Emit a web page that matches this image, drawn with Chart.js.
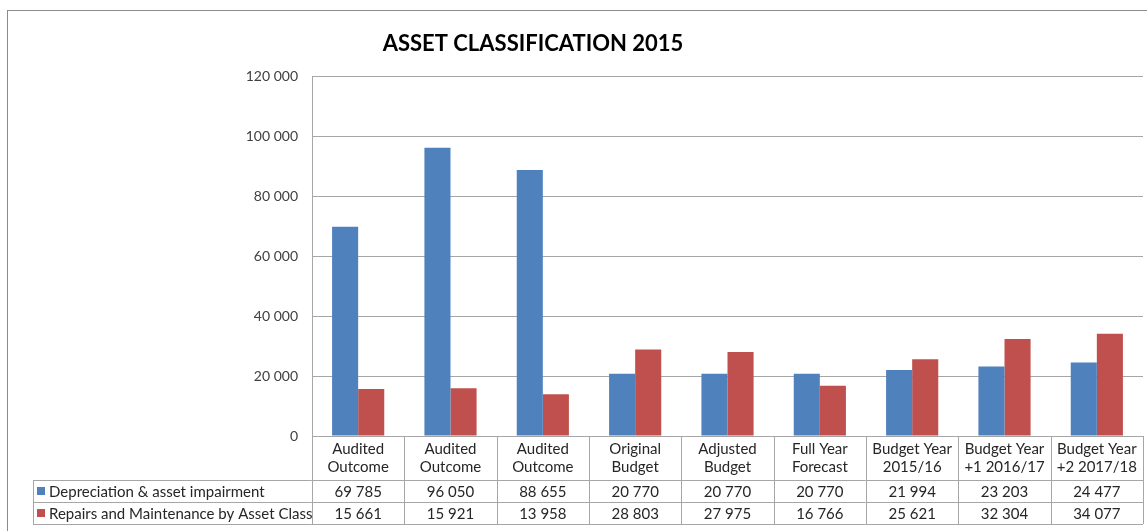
<!DOCTYPE html>
<html>
<head>
<meta charset="utf-8">
<script src="https://cdn.jsdelivr.net/npm/chart.js@4/dist/chart.umd.min.js"></script>
<style>
  html, body { margin: 0; padding: 0; background: #fff; }
</style>
</head>
<body>
<canvas id="myChart" width="1147" height="531"></canvas>
<script>
// chart data
const chartTitle = "ASSET CLASSIFICATION 2015";
const categories = [
  ["Audited", "Outcome"],
  ["Audited", "Outcome"],
  ["Audited", "Outcome"],
  ["Original", "Budget"],
  ["Adjusted", "Budget"],
  ["Full Year", "Forecast"],
  ["Budget Year", "2015/16"],
  ["Budget Year", "+1 2016/17"],
  ["Budget Year", "+2 2017/18"]
];
const seriesNames = ["Depreciation & asset impairment", "Repairs and Maintenance by Asset Class"];
const depreciation = [69785, 96050, 88655, 20770, 20770, 20770, 21994, 23203, 24477];
const repairs = [15661, 15921, 13958, 28803, 27975, 16766, 25621, 32304, 34077];
const seriesColors = ["#4F81BD", "#C0504D"];
const yMax = 120000;
const yStep = 20000;

function fmt(v) {
  return String(v).replace(/\B(?=(\d{3})+(?!\d))/g, " ");
}

const lineColor = "#a6a6a6";
const textColor = "#262626";
const fontFamily = "Lato, 'Open Sans', sans-serif";

// draws frame, title and the data table under the plot
const tablePlugin = {
  id: "dataTable",
  afterDraw(chart) {
    const ctx = chart.ctx;
    const area = chart.chartArea;
    const xs = chart.scales.x;
    const n = categories.length;
    const colW = (area.right - area.left) / n;
    const tableLeft = 33;
    const row1Top = 480;
    const row2Top = 502;
    const tableBottom = 524;

    ctx.save();
    // outer frame
    ctx.strokeStyle = "#8c8c8c";
    ctx.lineWidth = 1;
    ctx.strokeRect(7.5, 10.5, 1160, 540);

    // title
    ctx.fillStyle = "#000";
    ctx.font = "bold 22px " + fontFamily;
    ctx.textAlign = "center";
    ctx.textBaseline = "middle";
    ctx.fillText(chartTitle, 533, 44);

    // table grid
    ctx.strokeStyle = lineColor;
    ctx.beginPath();
    for (let i = 0; i <= n; i++) {
      const x = Math.round(area.left + i * colW) + 0.5;
      ctx.moveTo(x, area.bottom);
      ctx.lineTo(x, tableBottom);
    }
    [row1Top, row2Top, tableBottom].forEach(function (y) {
      ctx.moveTo(tableLeft, y + 0.5);
      ctx.lineTo(area.right, y + 0.5);
    });
    ctx.moveTo(tableLeft + 0.5, row1Top);
    ctx.lineTo(tableLeft + 0.5, tableBottom);
    ctx.stroke();

    // header labels and values
    ctx.fillStyle = textColor;
    ctx.font = "15px " + fontFamily;
    ctx.textAlign = "center";
    for (let i = 0; i < n; i++) {
      const cx = xs.getPixelForValue(i);
      ctx.fillText(categories[i][0], cx, 449);
      ctx.fillText(categories[i][1], cx, 467);
      ctx.fillText(fmt(depreciation[i]), cx, (row1Top + row2Top) / 2 + 1);
      ctx.fillText(fmt(repairs[i]), cx, (row2Top + tableBottom) / 2 + 1);
    }

    // legend keys
    const rows = [(row1Top + row2Top) / 2, (row2Top + tableBottom) / 2];
    ctx.textAlign = "left";
    for (let s = 0; s < 2; s++) {
      ctx.fillStyle = seriesColors[s];
      ctx.fillRect(37, rows[s] - 4, 8, 8);
      ctx.fillStyle = textColor;
      ctx.fillText(seriesNames[s], 49, rows[s] + 1);
    }
    ctx.restore();
  }
};

const ctx = document.getElementById("myChart").getContext("2d");
const myChart = new Chart(ctx, {
  type: "bar",
  data: {
    labels: categories,
    datasets: [
      {
        label: seriesNames[0],
        data: depreciation,
        backgroundColor: seriesColors[0]
      },
      {
        label: seriesNames[1],
        data: repairs,
        backgroundColor: seriesColors[1]
      }
    ]
  },
  options: {
    responsive: false,
    animation: false,
    devicePixelRatio: 1,
    categoryPercentage: 0.565,
    barPercentage: 1.0,
    layout: {
      padding: { top: 76, right: 4, bottom: 95, left: 0 }
    },
    plugins: {
      legend: { display: false },
      tooltip: { enabled: false },
      title: { display: false }
    },
    scales: {
      x: { display: false },
      y: {
        min: 0,
        max: yMax,
        ticks: {
          stepSize: yStep,
          padding: 14,
          color: "#404040",
          font: { family: fontFamily, size: 14 },
          callback: function (v) { return fmt(v); }
        },
        grid: { color: lineColor, drawTicks: false },
        border: { color: lineColor },
        afterFit: function (scale) { scale.width = 312; }
      }
    }
  },
  plugins: [tablePlugin]
});
</script>
</body>
</html>
